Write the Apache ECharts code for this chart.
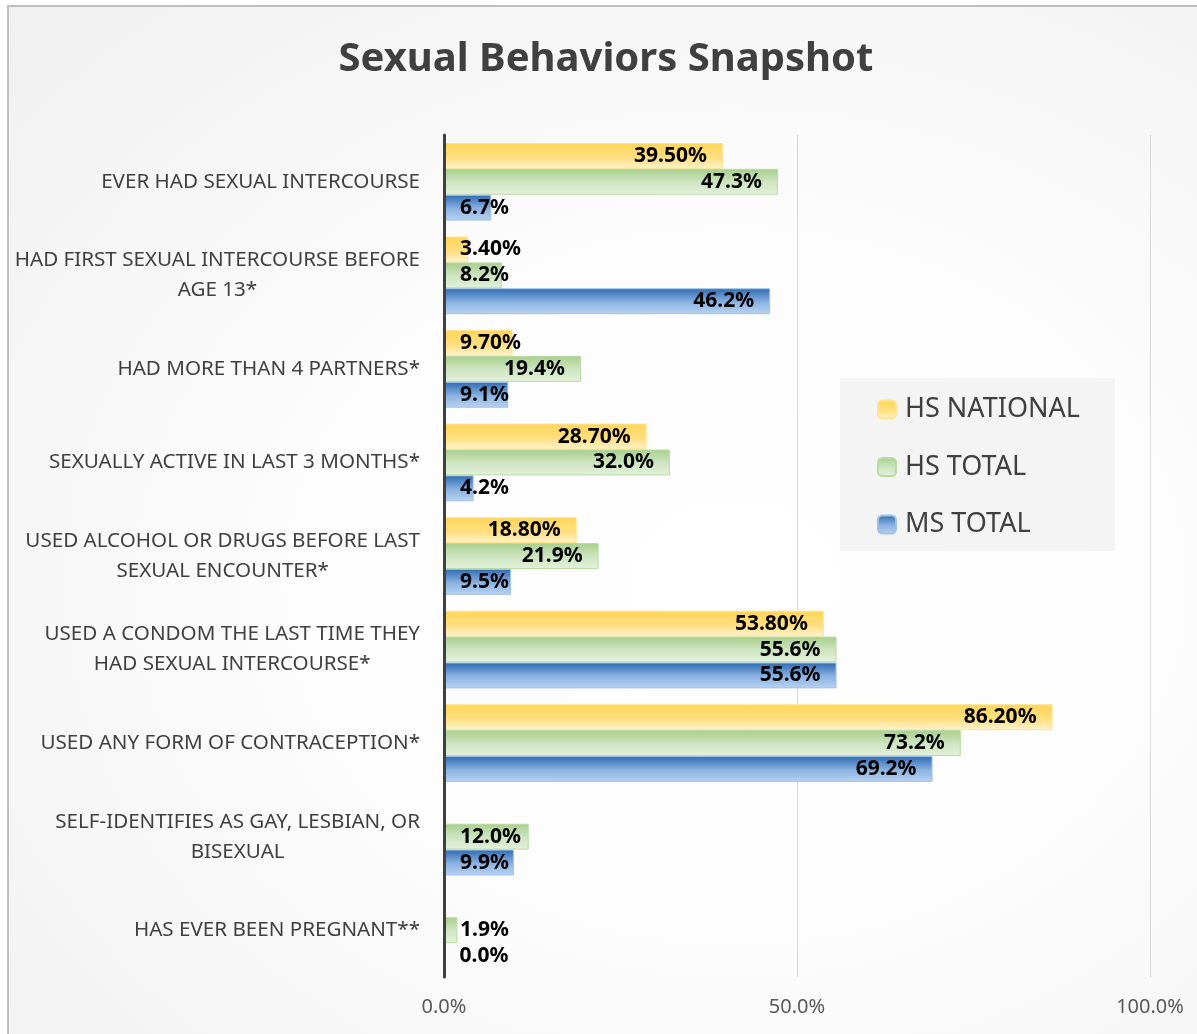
<!DOCTYPE html>
<html>
<head>
<meta charset="utf-8">
<script src="https://cdn.jsdelivr.net/npm/echarts@6/dist/echarts.min.js"></script>
<style>
  html, body { margin: 0; padding: 0; background: #ffffff; overflow: hidden; }
  #frame {
    position: absolute; left: 7px; top: 5px; width: 1210px; height: 1050px;
    border-left: 2px solid #bfbfbf; border-top: 2px solid #bfbfbf;
    background: radial-gradient(ellipse at 60% 55%, #ffffff 0%, #fcfcfc 45%, #f0f0f0 100%);
  }
  #chart { position: absolute; left: 0; top: 0; width: 1197px; height: 1034px; }
</style>
</head>
<body>
<div id="frame"></div>
<div id="chart"></div>
<script>
const title = 'Sexual Behaviors Snapshot';
const categories = [
  'EVER HAD SEXUAL INTERCOURSE',
  'HAD FIRST SEXUAL INTERCOURSE BEFORE\nAGE 13*',
  'HAD MORE THAN 4 PARTNERS*',
  'SEXUALLY ACTIVE IN LAST 3 MONTHS*',
  'USED ALCOHOL OR DRUGS BEFORE LAST\nSEXUAL ENCOUNTER*',
  'USED A CONDOM THE LAST TIME THEY\nHAD SEXUAL INTERCOURSE*',
  'USED ANY FORM OF CONTRACEPTION*',
  'SELF-IDENTIFIES AS GAY, LESBIAN, OR\nBISEXUAL',
  'HAS EVER BEEN PREGNANT**'
];
const seriesNames = ['HS NATIONAL', 'HS TOTAL', 'MS TOTAL'];
const hsNational = [39.50, 3.40, 9.70, 28.70, 18.80, 53.80, 86.20, null, null];
const hsTotal    = [47.3, 8.2, 19.4, 32.0, 21.9, 55.6, 73.2, 12.0, 1.9];
const msTotal    = [6.7, 46.2, 9.1, 4.2, 9.5, 55.6, 69.2, 9.9, 0.0];
const labelDecimals = [2, 1, 1];
const xMin = 0, xMax = 100, xInterval = 50;

const W = 1197, H = 1034;
const grid = { left: 444, right: 47, top: 135, bottom: 57 };
const plotW = W - grid.left - grid.right;
const FONT = '"Noto Sans", "Open Sans", sans-serif';
const LABEL_FONT_SIZE = 21;
const LABEL_DIST = 16;

const ctx = document.createElement('canvas').getContext('2d');
ctx.font = 'bold ' + LABEL_FONT_SIZE + 'px ' + FONT;
function measure(t) { return ctx.measureText(t).width; }

function makeData(values, dec) {
  return values.map(v => {
    if (v == null) return '-';
    const w = measure(v.toFixed(dec) + '%');
    const barPx = (v - xMin) / (xMax - xMin) * plotW;
    const fits = barPx - LABEL_DIST - w >= LABEL_DIST;
    return { value: v, label: { position: fits ? 'insideRight' : 'insideLeft' } };
  });
}

function grad(stops) {
  return { type: 'linear', x: 0, y: 0, x2: 0, y2: 1,
    colorStops: stops.map(s => ({ offset: s[0], color: s[1] })) };
}
const fills = [
  grad([[0, '#ffd659'], [0.55, '#ffde7e'], [1, '#fff3cf']]),
  grad([[0, '#a7cf8b'], [0.5, '#cde4c0'], [1, '#e4f1dc']]),
  grad([[0, '#2d6ab1'], [0.55, '#8cb3e2'], [1, '#b8d2f1']])
];
const borders = ['#ffe38f', '#b9dba2', '#9fc3e8'];
const allValues = [hsNational, hsTotal, msTotal];

const series = seriesNames.map((name, i) => ({
  name: name,
  type: 'bar',
  data: makeData(allValues[i], labelDecimals[i]),
  barGap: '0%',
  barCategoryGap: '17%',
  itemStyle: { color: fills[i], borderColor: borders[i], borderWidth: 1 },
  label: {
    show: true,
    distance: LABEL_DIST,
    color: '#000000',
    fontWeight: 'bold',
    fontSize: LABEL_FONT_SIZE,
    fontFamily: FONT,
    formatter: p => Number(p.value).toFixed(labelDecimals[i]) + '%'
  },
  emphasis: { disabled: true },
  animation: false
}));

const chart = echarts.init(document.getElementById('chart'), null, { renderer: 'canvas' });
chart.setOption({
  backgroundColor: 'transparent',
  animation: false,
  title: {
    text: title,
    left: 601,
    top: 35,
    textAlign: 'center',
    textStyle: { fontFamily: FONT, fontWeight: 'bold', fontSize: 40, color: '#404040' }
  },
  legend: {
    orient: 'vertical',
    left: 840,
    top: 378,
    data: seriesNames,
    backgroundColor: '#f4f4f4',
    padding: [18, 35, 13, 37],
    itemWidth: 18,
    itemHeight: 18,
    itemGap: 30.5,
    textStyle: { fontFamily: FONT, fontSize: 27, color: '#404040', padding: [0, 0, 0, 4] }
  },
  grid: { left: grid.left, right: grid.right, top: grid.top, bottom: grid.bottom, containLabel: false },
  xAxis: {
    type: 'value',
    min: xMin, max: xMax, interval: xInterval,
    axisLine: { show: false },
    axisTick: { show: false },
    splitLine: { show: true, lineStyle: { color: '#d9d9d9', width: 1 } },
    axisLabel: {
      margin: 20,
      fontFamily: FONT, fontSize: 20, color: '#595959',
      formatter: v => v.toFixed(1) + '%'
    }
  },
  yAxis: {
    type: 'category',
    inverse: true,
    z: 10,
    data: categories,
    axisLine: { show: true, lineStyle: { color: '#404040', width: 3 } },
    axisTick: { show: false },
    axisLabel: {
      margin: 24,
      interval: 0,
      formatter: v => v.split('\n').map(l => '{c|' + l + '}').join('\n'),
      rich: {
        c: { align: 'center', fontFamily: FONT, fontSize: 20.6, lineHeight: 30, color: '#404040' }
      }
    }
  },
  series: series
});
</script>
</body>
</html>
